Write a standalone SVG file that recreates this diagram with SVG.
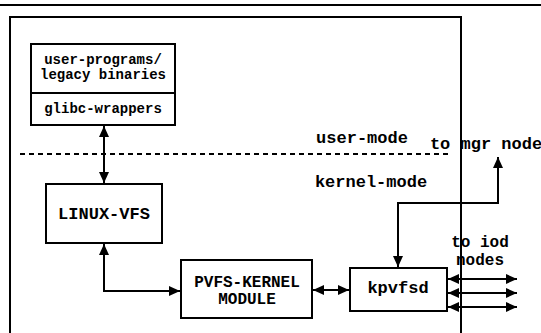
<svg xmlns="http://www.w3.org/2000/svg" width="541" height="333" viewBox="0 0 541 333">
<style>
.box{fill:#fff;stroke:#000;stroke-width:2}
.ln{fill:none;stroke:#000;stroke-width:2}
.t{font-family:"Liberation Mono","Courier New",monospace;font-weight:bold;font-size:17px;text-anchor:middle;fill:#000}
.m{font-size:16px}
.s{font-size:14px}
</style>
<defs>
<marker id="ah" markerWidth="11" markerHeight="10" refX="11" refY="5" orient="auto-start-reverse" markerUnits="userSpaceOnUse">
<path d="M0,0 L11,5 L0,10 Z" fill="#000"/>
</marker>
</defs>
<g id="frame">
<line x1="0" y1="5" x2="541" y2="5" class="ln"/>
<path d="M10,340 V17 H461 V340" class="ln"/>
<line x1="20" y1="154" x2="452" y2="154" class="ln" stroke-dasharray="5,4"/>
</g>
<g id="user-programs">
<rect x="31" y="44" width="144" height="81" class="box"/>
<line x1="31" y1="93" x2="175" y2="93" class="ln"/>
<text x="103" y="64" class="t s">user-programs/</text>
<text x="103" y="79" class="t s">legacy binaries</text>
<text x="103" y="113" class="t s">glibc-wrappers</text>
</g>
<g id="linux-vfs">
<rect x="46" y="184" width="116" height="59" class="box"/>
<text x="104" y="219" class="t">LINUX-VFS</text>
</g>
<g id="pvfs-kernel">
<rect x="181" y="260" width="131" height="58" class="box"/>
<text x="247" y="287" class="t m">PVFS-KERNEL</text>
<text x="247" y="304" class="t m">MODULE</text>
</g>
<g id="kpvfsd">
<rect x="350" y="268" width="97" height="43" class="box"/>
<text x="398" y="293" class="t">kpvfsd</text>
</g>
<g id="labels">
<text x="362" y="143" class="t">user-mode</text>
<text x="371" y="187" class="t">kernel-mode</text>
<text x="486" y="149" class="t">to mgr node</text>
<text x="480" y="247" class="t m">to iod</text>
<text x="480" y="265" class="t m">nodes</text>
</g>
<g id="connectors">
<line x1="104" y1="126" x2="104" y2="183" class="ln" marker-start="url(#ah)" marker-end="url(#ah)"/>
<path d="M104,244 V291 H180" class="ln" marker-start="url(#ah)" marker-end="url(#ah)"/>
<line x1="313" y1="290" x2="349" y2="290" class="ln" marker-start="url(#ah)" marker-end="url(#ah)"/>
<path d="M398,267 V203 H498 V157" class="ln" marker-start="url(#ah)" marker-end="url(#ah)"/>
<line x1="448" y1="279" x2="517" y2="279" class="ln" marker-start="url(#ah)" marker-end="url(#ah)"/>
<line x1="448" y1="293" x2="517" y2="293" class="ln" marker-start="url(#ah)" marker-end="url(#ah)"/>
<line x1="448" y1="307" x2="517" y2="307" class="ln" marker-start="url(#ah)" marker-end="url(#ah)"/>
</g>
</svg>
